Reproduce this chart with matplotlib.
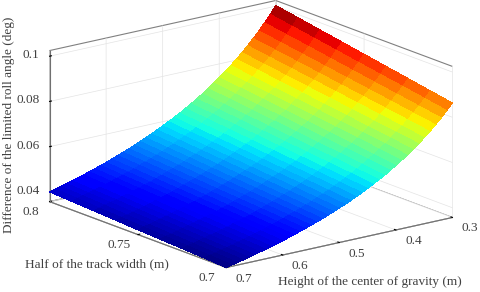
import numpy as np
import matplotlib
matplotlib.use("Agg")
import matplotlib.pyplot as plt
from matplotlib.ticker import NullFormatter
from mpl_toolkits.mplot3d import proj3d

height_m = [0.30, 0.31, 0.32, 0.33, 0.34, 0.35, 0.36, 0.37, 0.38, 0.39, 0.40,
            0.41, 0.42, 0.43, 0.44, 0.45, 0.46, 0.47, 0.48, 0.49, 0.50,
            0.51, 0.52, 0.53, 0.54, 0.55, 0.56, 0.57, 0.58, 0.59, 0.60,
            0.61, 0.62, 0.63, 0.64, 0.65, 0.66, 0.67, 0.68, 0.69, 0.70]
half_track_m = [0.70, 0.7125, 0.725, 0.7375, 0.75, 0.7625, 0.775, 0.7875, 0.80]
diff_070 = [.0863, .0835, .0808, .0783, .0759, .0737, .0716, .0696, .0677, .0659, .0642,
            .0626, .0610, .0596, .0582, .0568, .0555, .0543, .0531, .0520, .0509,
            .0499, .0489, .0479, .0470, .0461, .0452, .0444, .0436, .0428, .0420,
            .0413, .0406, .0399, .0393, .0386, .0380, .0374, .0368, .0363, .0357]
diff_07125 = [.08805, .0852, .0824, .07985, .0774, .07515, .07295, .07095, .0690, .0672, .0654,
              .0638, .06215, .0607, .05925, .05785, .0565, .0553, .05405, .05295, .0518,
              .0508, .04975, .04875, .0478, .0469, .04595, .04515, .0443, .0435, .0427,
              .0420, .04125, .04055, .0399, .03925, .0386, .0380, .03735, .03685, .03625]
diff_0725 = [.0898, .0869, .0840, .0814, .0789, .0766, .0743, .0723, .0703, .0685, .0666,
             .0650, .0633, .0618, .0603, .0589, .0575, .0563, .0550, .0539, .0527,
             .0517, .0506, .0496, .0486, .0477, .0467, .0459, .0450, .0442, .0434,
             .0427, .0419, .0412, .0405, .0399, .0392, .0386, .0379, .0374, .0368]
diff_07375 = [.09155, .08855, .0856, .08295, .0804, .07805, .0757, .07365, .0716, .06975, .0678,
              .06615, .06445, .0629, .06135, .05995, .0585, .05725, .05595, .0548, .0536,
              .05255, .05145, .0504, .0494, .04845, .04745, .04665, .04575, .0449, .04405,
              .04335, .04255, .04185, .0411, .0405, .03975, .03915, .03845, .03795, .0373]
diff_075 = [.0933, .0902, .0872, .0845, .0819, .0795, .0771, .0750, .0729, .0710, .0690,
            .0673, .0656, .0640, .0624, .0610, .0595, .0582, .0569, .0557, .0545,
            .0534, .0523, .0512, .0502, .0492, .0482, .0474, .0465, .0456, .0447,
            .0440, .0432, .0425, .0417, .0411, .0403, .0397, .0390, .0385, .0378]
diff_07625 = [.09505, .0919, .08885, .08605, .0834, .08095, .0785, .07635, .0742, .07225, .07025,
              .0685, .06675, .0651, .0635, .06205, .06055, .0592, .05785, .05665, .0554,
              .0543, .05315, .05205, .0510, .0500, .0490, .04815, .04725, .0463, .0454,
              .0447, .04385, .04315, .04235, .0417, .0409, .0403, .0396, .03905, .03835]
diff_0775 = [.0968, .0936, .0905, .0876, .0849, .0824, .0799, .0777, .0755, .0735, .0715,
             .0697, .0679, .0662, .0646, .0631, .0616, .0602, .0588, .0576, .0563,
             .0552, .0540, .0529, .0518, .0508, .0498, .0489, .0480, .0470, .0461,
             .0454, .0445, .0438, .0430, .0423, .0415, .0409, .0402, .0396, .0389]
diff_07875 = [.09855, .09525, .0921, .08915, .0864, .08385, .0813, .07905, .0768, .07475, .0727,
              .07085, .06905, .0673, .06565, .0641, .0626, .06115, .05975, .0585, .0572,
              .05605, .05485, .0537, .0526, .05155, .05055, .0496, .0487, .0477, .0468,
              .04605, .04515, .0444, .0436, .0429, .0421, .04145, .04075, .04015, .03945]
diff_080 = [.1003, .0969, .0937, .0907, .0879, .0853, .0827, .0804, .0781, .0760, .0739,
            .0720, .0702, .0684, .0667, .0651, .0636, .0621, .0607, .0594, .0581,
            .0569, .0557, .0545, .0534, .0523, .0513, .0503, .0494, .0484, .0475,
            .0467, .0458, .0450, .0442, .0435, .0427, .0420, .0413, .0407, .0400]
x_ticks = [0.3, 0.4, 0.5, 0.6, 0.7]
y_ticks = [0.7, 0.75, 0.8]
z_ticks = [0.04, 0.06, 0.08, 0.1]
x_labels = ["0.3", "0.4", "0.5", "0.6", "0.7"]
y_labels = ["0.7", "0.75", "0.8"]
z_labels = ["0.04", "0.06", "0.08", "0.1"]

plt.rcParams["font.family"] = ["Liberation Serif", "DejaVu Serif"]
TXT = "#404040"
fig = plt.figure(figsize=(4.8, 2.92), dpi=100)
ax = fig.add_axes([4.5/480, -88.5/292, 1, 480/292], projection="3d", proj_type="ortho")
ax.patch.set_alpha(0)
ax.view_init(elev=16.7, azim=-127.6)
ax.set_box_aspect((286, 290, 158), zoom=0.882)

X, Y = np.meshgrid(height_m, half_track_m)
Z = np.array([diff_070, diff_07125, diff_0725, diff_07375, diff_075,
              diff_07625, diff_0775, diff_07875, diff_080])
ax.plot_surface(X, Y, Z, cmap="jet", vmin=Z.min(), vmax=Z.max(),
                rstride=1, cstride=1, linewidth=0, antialiased=False, shade=False)
ax.set_xlim(0.7, 0.3)
ax.set_ylim(0.7, 0.8)
ax.set_zlim(0.0357, 0.1025)
ax.set_xticks(x_ticks)
ax.set_yticks(y_ticks)
ax.set_zticks(z_ticks)
for axis in (ax.xaxis, ax.yaxis, ax.zaxis):
    axis.set_major_formatter(NullFormatter())
    axis.set_pane_color((1, 1, 1, 1))
    axis.pane.set_edgecolor("#808080")
    axis.pane.set_linewidth(0.8)
    axis.line.set_color("#707070")
    axis.line.set_linewidth(0.8)
    axis._axinfo["grid"].update(color="#e4e4e4", linewidth=0.5)
    axis._axinfo["tick"].update(inward_factor=0.0, outward_factor=0.1)

M = ax.get_proj()
x0, x1 = ax.get_xlim()
y0, y1 = ax.get_ylim()
z0 = ax.get_zlim()[0]

def tick_text(x, y, z, label, offset, ha):
    sx, sy, _ = proj3d.proj_transform(x, y, z, M)
    ax.annotate(label, xy=(sx, sy), xytext=offset, textcoords="offset pixels",
                ha=ha, va="center", fontsize=9.5, color=TXT, annotation_clip=False)

for t, s in zip(x_ticks, x_labels):
    tick_text(t, y0, z0, s, (17.5, -11), "center")
for t, s in zip(y_ticks, y_labels):
    tick_text(x0, t, z0, s, (-19, -10), "center")
for t, s in zip(z_ticks, z_labels):
    tick_text(x0, y1, t, s, (-10, 1), "right")

fig.text(97/480, 1-264/292, "Half of the track width (m)", fontsize=9.5, color=TXT, ha="center", va="center")
fig.text(370/480, 1-282/292, "Height of the center of gravity (m)", fontsize=9.5, color=TXT, ha="center", va="center")
fig.text(9/480, 1-125/292, "Difference of the limited roll angle (deg)", fontsize=9.5, color=TXT, ha="center", va="center", rotation=90)
fig.savefig("out.png", dpi=100)
